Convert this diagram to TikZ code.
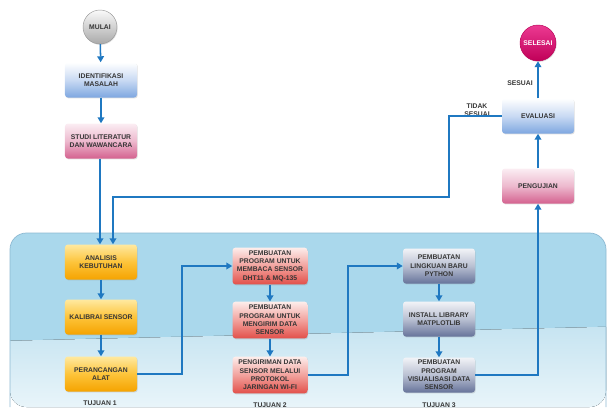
\documentclass[tikz,border=0pt]{standalone}
\usepackage{fontspec}
\setsansfont{Liberation Sans}
\usetikzlibrary{arrows.meta,positioning,shadows}
\definecolor{flowblue}{HTML}{1F78C1}
\definecolor{textdark}{HTML}{363636}
\definecolor{regionblue}{HTML}{AAD8EC}
\definecolor{regionedge}{HTML}{8DB9D2}
\definecolor{regionmid}{HTML}{C6E4F1}
\definecolor{regionlight}{HTML}{EEF7FB}
\definecolor{bluetop}{HTML}{FFFFFF}
\definecolor{bluemid}{HTML}{C9DAF3}
\definecolor{bluebottom}{HTML}{7EA7E0}
\definecolor{pinktop}{HTML}{FBEEF3}
\definecolor{pinkmid}{HTML}{EDB9CE}
\definecolor{pinkbottom}{HTML}{D4628F}
\definecolor{orangetop}{HTML}{FFE9A0}
\definecolor{orangemid}{HTML}{FDC43A}
\definecolor{orangebottom}{HTML}{F5A300}
\definecolor{redtop}{HTML}{FDEDEB}
\definecolor{redmid}{HTML}{F2A29D}
\definecolor{redbottom}{HTML}{E2504A}
\definecolor{greytop}{HTML}{F2F3F7}
\definecolor{greymid}{HTML}{B9C0D2}
\definecolor{greybottom}{HTML}{66739A}
\definecolor{starttop}{HTML}{FAFAFA}
\definecolor{startbottom}{HTML}{A9A9A9}
\definecolor{endtop}{HTML}{EC3A92}
\definecolor{endbottom}{HTML}{C00058}
\definecolor{endedge}{HTML}{B80055}
\newcommand{\boxfont}{\sffamily\bfseries\fontsize{5.8}{7.2}\selectfont}

\tikzset{
    stepbox/.style={rounded corners=2.5pt, minimum width=2.16cm, minimum height=1.05cm,
        align=center, inner sep=1pt, font=\boxfont, text=textdark,
        drop shadow={opacity=0.25, shadow xshift=0.6pt, shadow yshift=-0.8pt}},
    bluebox/.style={stepbox, top color=bluetop, bottom color=bluebottom, middle color=bluemid},
    pinkbox/.style={stepbox, top color=pinktop, bottom color=pinkbottom, middle color=pinkmid},
    orangebox/.style={stepbox, top color=orangetop, bottom color=orangebottom, middle color=orangemid},
    redbox/.style={stepbox, minimum width=2.25cm, minimum height=1.1cm, top color=redtop, bottom color=redbottom, middle color=redmid},
    greybox/.style={stepbox, top color=greytop, bottom color=greybottom, middle color=greymid},
    terminal/.style={circle, inner sep=0pt, font=\boxfont,
        drop shadow={opacity=0.25, shadow xshift=0.6pt, shadow yshift=-0.8pt}},
    flow/.style={draw=flowblue, line width=1.3pt, -{Triangle[length=1.8mm, width=2mm]}},
    goal/.style={font=\boxfont, text=textdark},
    tag/.style={font=\boxfont, text=textdark, align=center, inner sep=1pt}
}

\begin{document}
\begin{tikzpicture}[x=0.03cm, y=-0.03cm]
    \useasboundingbox (0,0) rectangle (608,409);
    \clip (0,0) rectangle (608,409);

    % Background region of the three goals
    \begin{scope}
        \clip[rounded corners=14pt] (10,233) rectangle (606,407);
        \fill[regionblue] (0,220) rectangle (640,420);
        \fill[top color=regionmid, bottom color=regionlight] (0,341) -- (640,326) -- (640,420) -- (0,420) -- cycle;
    \end{scope}
    \draw[regionedge, line width=0.6pt, rounded corners=14pt] (10,407) -- (10,233) -- (606,233) -- (606,407);

    % Start and top steps
    \node[terminal, minimum size=1.02cm, draw=gray!80, top color=starttop, bottom color=startbottom, text=textdark] (mulai) at (100,27) {MULAI};
    \node[bluebox] (identifikasi) at (101,80) {IDENTIFIKASI\\MASALAH};
    \node[pinkbox] (studi) at (101,141) {STUDI LITERATUR\\DAN WAWANCARA};

    % Goal 1
    \node[orangebox] (analisis) at (101,262) {ANALISIS\\KEBUTUHAN};
    \node[orangebox] (kalibrasi) at (101,317) {KALIBRAI SENSOR};
    \node[orangebox] (perancangan) at (101,374) {PERANCANGAN\\ALAT};
    \node[goal] (tujuan1) at (100,403) {TUJUAN 1};

    % Goal 2
    \node[redbox] (bacasensor) at (270,266) {PEMBUATAN\\PROGRAM UNTUK\\MEMBACA SENSOR\\DHT11 \& MQ-135};
    \node[redbox] (kirimdata) at (270,320) {PEMBUATAN\\PROGRAM UNTUK\\MENGIRIM DATA\\SENSOR};
    \node[redbox] (wifi) at (270,375) {PENGIRIMAN DATA\\SENSOR MELALUI\\PROTOKOL\\JARINGAN WI-FI};
    \node[goal] (tujuan2) at (270,405) {TUJUAN 2};

    % Goal 3
    \node[greybox] (python) at (439,266) {PEMBUATAN\\LINGKUAN BARU\\PYTHON};
    \node[greybox] (library) at (439,319) {INSTALL LIBRARY\\MATPLOTLIB};
    \node[greybox] (visual) at (439,375) {PEMBUATAN\\PROGRAM\\VISUALISASI DATA\\SENSOR};
    \node[goal] (tujuan3) at (439,405) {TUJUAN 3};

    % Test, evaluation and end
    \node[pinkbox] (pengujian) at (538,186) {PENGUJIAN};
    \node[bluebox] (evaluasi) at (538,116) {EVALUASI};
    \node[terminal, minimum size=1.08cm, draw=endedge, top color=endtop, bottom color=endbottom, text=white] (selesai) at (538,43) {SELESAI};
    \node[tag] (lblsesuai) at (520,83) {SESUAI};
    \node[tag] (lbltidak) at (477,110) {TIDAK\\SESUAI};

    % Bend points of the connectors
    \coordinate (bendone) at (182,266);
    \coordinate (bendtwo) at (348,266);
    \coordinate (loopback) at (449,197);

    % Connectors
    \draw[flow] (mulai) -- (identifikasi);
    \draw[flow] (identifikasi) -- (studi);
    \draw[flow] ([xshift=-0.03cm]studi.south) -- ([xshift=-0.03cm]analisis.north);
    \draw[flow] (analisis) -- (kalibrasi);
    \draw[flow] (kalibrasi) -- (perancangan);
    \draw[flow] (perancangan.east) -| (bendone) -- (bacasensor.west);
    \draw[flow] (bacasensor) -- (kirimdata);
    \draw[flow] (kirimdata) -- (wifi);
    \draw[flow] (wifi.east) -| (bendtwo) -- (python.west);
    \draw[flow] (python) -- (library);
    \draw[flow] (library) -- (visual);
    \draw[flow] (visual.east) -| (pengujian.south);
    \draw[flow] (pengujian) -- (evaluasi);
    \draw[flow] (evaluasi) -- (selesai);
    \draw[flow] (evaluasi.west) -| (loopback) -| ([xshift=0.36cm]analisis.north);
\end{tikzpicture}
\end{document}
